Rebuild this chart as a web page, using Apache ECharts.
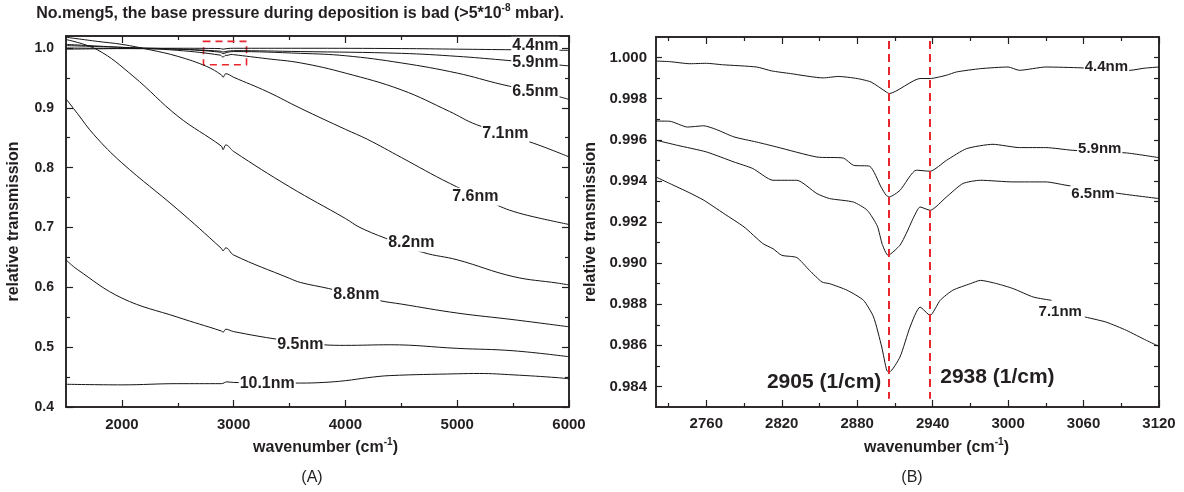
<!DOCTYPE html>
<html>
<head>
<meta charset="utf-8">
<script src="https://cdn.jsdelivr.net/npm/echarts@6.0.0/dist/echarts.min.js"></script>
<style>html,body{margin:0;padding:0;background:#fff}#chart{width:1184px;height:492px}</style>
</head>
<body>
<div id="chart"></div>
<script>
(function (window, document) {
    'use strict';
    var FONT = '"Liberation Sans", Arial, sans-serif';
    var INK = '#231f20';
    var RED = '#e8262c';

    // ---- panel (A): whole spectrum ----
    var aXMajor = [2000, 3000, 4000, 5000, 6000];
    var aXMinor = [2500, 3500, 4500, 5500];
    var aYMajor = [0.4, 0.5, 0.6, 0.7, 0.8, 0.9, 1.0];
    var aYMinor = [0.45, 0.55, 0.65, 0.75, 0.85, 0.95];
    // dashed box = zoomed region shown in (B): x0, x1, y0, y1
    var aZoomBox = [2730, 3115, 0.972, 1.011];

    var a44 = [[1500, 0.998], [2000, 0.999], [2500, 0.9995], [2880, 0.999], [2905, 0.998], [2940, 0.999], [3000, 0.9995],
        [3600, 0.9995], [4500, 0.999], [5000, 0.998], [5500, 0.997], [6000, 0.996]];
    var a59 = [[1500, 1.000], [2000, 0.999], [2500, 0.998], [2880, 0.9947], [2905, 0.9932], [2940, 0.9945], [3000, 0.9955],
        [3600, 0.994], [4500, 0.991], [5000, 0.986], [5400, 0.980], [6000, 0.970]];
    var a65 = [[1500, 1.004], [2000, 1.001], [2500, 0.998], [2880, 0.993], [2905, 0.9904], [2940, 0.9926], [3000, 0.994],
        [3600, 0.991], [4000, 0.987], [4500, 0.975], [5000, 0.958], [5400, 0.939], [5900, 0.919], [6000, 0.914]];
    var a71 = [[1500, 1.006], [2000, 1.001], [2500, 0.996], [2880, 0.988], [2905, 0.9847], [2930, 0.9879], [2940, 0.9875],
        [2975, 0.9892], [3000, 0.9888], [3300, 0.982], [3600, 0.975], [4000, 0.958], [4500, 0.930], [4930, 0.894],
        [5170, 0.872], [5680, 0.841], [6000, 0.818]];
    var a76 = [[1500, 1.018], [1780, 1.011], [2000, 1.006], [2250, 0.997], [2500, 0.986], [2760, 0.969], [2890, 0.955],
        [2905, 0.951], [2930, 0.957], [3000, 0.951], [3300, 0.927], [3600, 0.899], [4000, 0.864], [4200, 0.847],
        [4500, 0.817], [4930, 0.774], [5386, 0.735], [5500, 0.727], [5680, 0.718], [6000, 0.705]];
    var a82 = [[1500, 1.014], [1780, 0.997], [2100, 0.953], [2500, 0.886], [2890, 0.836], [2905, 0.830], [2930, 0.838],
        [3000, 0.827], [3500, 0.768], [4000, 0.715], [4130, 0.700], [4400, 0.679], [4700, 0.658],
        [5000, 0.646], [5500, 0.618], [5900, 0.607], [6000, 0.604]];
    var a88 = [[1500, 0.915], [1600, 0.891], [1750, 0.855], [2000, 0.808], [2500, 0.730], [2890, 0.665], [2905, 0.661],
        [2930, 0.666], [3000, 0.654], [3500, 0.615], [3600, 0.608], [3850, 0.598], [4300, 0.578], [4500, 0.572],
        [5000, 0.557], [5500, 0.546], [6000, 0.534]];
    var a95 = [[1500, 0.646], [1600, 0.630], [2000, 0.582], [2500, 0.550], [2890, 0.527], [2905, 0.525], [2930, 0.530],
        [3000, 0.526], [3400, 0.513], [3800, 0.504], [4000, 0.503], [4400, 0.504], [5000, 0.498], [5500, 0.494],
        [6000, 0.484]];
    var a101 = [[1500, 0.438], [2000, 0.437], [2500, 0.439], [2890, 0.439], [2940, 0.442], [3000, 0.441], [3600, 0.440],
        [3800, 0.441], [4000, 0.444], [4200, 0.449], [4400, 0.4525], [5000, 0.4555], [5200, 0.456], [5500, 0.4537],
        [5900, 0.449], [6000, 0.447]];
    var aLabels = [['4.4nm', 5699, 1.0038], ['5.9nm', 5699, 0.9754], ['6.5nm', 5699, 0.927], ['7.1nm', 5431, 0.8567],
        ['7.6nm', 5162, 0.7513], ['8.2nm', 4589, 0.6744], ['8.8nm', 4097, 0.5875], ['9.5nm', 3596, 0.504],
        ['10.1nm', 3300, 0.4385]];

    // ---- panel (B): C-H stretching region ----
    var bXMajor = [2760, 2820, 2880, 2940, 3000, 3060, 3120];
    var bXMinor = [2730, 2790, 2850, 2910, 2970, 3030, 3090];
    var bYMajor = [0.984, 0.986, 0.988, 0.990, 0.992, 0.994, 0.996, 0.998, 1.000];
    var bYMinor = [0.985, 0.987, 0.989, 0.991, 0.993, 0.995, 0.997, 0.999];
    var bPeaks = [2905, 2938];
    var bPeakSpan = [0.9834, 1.0008];
    var bPeakText = [['2905 (1/cm)', 2853.7, 0.98421], ['2938 (1/cm)', 2991.5, 0.98445]];

    var b44 = [[2720, 0.99983], [2731, 0.9998], [2747, 0.9997], [2760, 0.99972], [2773, 0.99965], [2800, 0.99954],
        [2812, 0.99935], [2827, 0.99922], [2853, 0.99901], [2865, 0.99908], [2880, 0.99898], [2891, 0.99881],
        [2903, 0.99833], [2905.5, 0.99825], [2930, 0.99898], [2938, 0.99898], [2951, 0.99914], [2959, 0.9993],
        [2978, 0.99946], [3000, 0.99954], [3009, 0.99938], [3030, 0.99954], [3058, 0.9995], [3097, 0.99938],
        [3108, 0.99948], [3120, 0.99954]];
    var b59 = [[2720, 0.99691], [2731, 0.9969], [2745, 0.99662], [2758, 0.99668], [2768, 0.9965], [2782, 0.99614],
        [2800, 0.99589], [2816, 0.99565], [2848, 0.99516], [2869, 0.99511], [2877, 0.99476], [2890, 0.99471],
        [2899, 0.9937], [2903, 0.9933], [2905.5, 0.99322], [2914, 0.99354], [2927, 0.99452], [2938, 0.99447],
        [2951, 0.995], [2967, 0.99557], [2988, 0.99578], [3009, 0.99562], [3030, 0.99562], [3051, 0.99549],
        [3094, 0.99536], [3120, 0.99513]];
    var b65 = [[2720, 0.99598], [2737, 0.99573], [2760, 0.99541], [2782, 0.99492], [2797, 0.9946], [2813, 0.99403],
        [2832, 0.99403], [2848, 0.99338], [2858, 0.99314], [2877, 0.99297], [2888, 0.99257], [2896, 0.9918],
        [2900, 0.9909], [2904.5, 0.99038], [2914, 0.99087], [2919, 0.99144], [2925, 0.99224], [2930, 0.99273],
        [2938, 0.99257], [2951, 0.99322], [2964, 0.99387], [2978, 0.99403], [3004, 0.99395], [3030, 0.99395],
        [3046, 0.99379], [3089, 0.99338], [3120, 0.99314]];
    var b71 = [[2720, 0.99419], [2731, 0.99387], [2747, 0.99341], [2758, 0.99306], [2774, 0.99241], [2790, 0.99176],
        [2805, 0.99095], [2813, 0.9907], [2820, 0.99038], [2832, 0.99027], [2842, 0.98965], [2852, 0.98908],
        [2858, 0.989], [2872, 0.98868], [2885, 0.98819], [2893, 0.98738], [2899.5, 0.98592], [2903.5, 0.98478],
        [2905.5, 0.9847], [2914, 0.98543], [2922, 0.98689], [2930, 0.98786], [2938, 0.98746], [2946, 0.98819],
        [2956, 0.98868], [2970, 0.989], [2978, 0.98916], [2991, 0.989], [3004, 0.98876], [3020, 0.98835],
        [3034.5, 0.98819], [3048, '-'], [3061, 0.98738], [3078, 0.98713], [3094, 0.98673], [3110, 0.98624],
        [3120, 0.98595]];
    var bLabels = [['4.4nm', 3078.2, 0.99954], ['5.9nm', 3072.9, 0.99557], ['6.5nm', 3067.5, 0.99338],
        ['7.1nm', 3041.5, 0.98762]];

    var chart = echarts.init(document.getElementById('chart'));

    var boldText = { color: INK, fontFamily: FONT, fontWeight: 'bold' };
    // raised exponent: tall bottom padding pushes the glyphs up in the line box
    var supStyle = { fontFamily: FONT, fontWeight: 'bold', fontSize: 10, color: INK, lineHeight: 10, padding: [0, 0, 12, 0] };
    var baseStyle = { fontFamily: FONT, fontWeight: 'bold', fontSize: 16, color: INK, lineHeight: 22 };

    function ext(a, b) {
        var o = {};
        for (var k in a) o[k] = a[k];
        for (var j in b) o[j] = b[j];
        return o;
    }

    // one tick-row axis; labels only on the main ones
    function axis(grid, pos, range, ticks, len, labels, fmt, margin, size) {
        var a = {
            type: 'value',
            gridIndex: grid,
            position: pos,
            min: range[0],
            max: range[1],
            axisLine: { show: true, onZero: false, lineStyle: { color: INK, width: 1.5 } },
            axisTick: { show: true, inside: true, length: len, customValues: ticks, lineStyle: { color: INK, width: 1.2 } },
            axisLabel: { show: false },
            splitLine: { show: false }
        };
        if (labels) {
            a.axisLabel = ext(boldText, { show: true, customValues: labels, formatter: fmt, fontSize: size, margin: margin });
        }
        return a;
    }

    function fmt1(v) { return v.toFixed(1); }
    function fmt0(v) { return String(Math.round(v)); }
    function fmt3(v) { return v.toFixed(3); }

    var aX = [1500, 6000], aY = [0.4, 1.02];
    var bX = [2720, 3120], bY = [0.983, 1.001];

    var xAxes = [
        axis(0, 'bottom', aX, aXMajor, 7, aXMajor, fmt0, 10, 15),
        axis(0, 'bottom', aX, aXMinor, 4),
        axis(0, 'top', aX, aXMajor, 7),
        axis(0, 'top', aX, aXMinor, 4),
        axis(1, 'bottom', bX, bXMajor, 7, bXMajor, fmt0, 9, 15),
        axis(1, 'bottom', bX, bXMinor, 4),
        axis(1, 'top', bX, bXMajor, 7),
        axis(1, 'top', bX, bXMinor, 4)
    ];
    var yAxes = [
        axis(0, 'left', aY, aYMajor, 7, aYMajor, fmt1, 12, 14),
        axis(0, 'left', aY, aYMinor, 4),
        axis(0, 'right', aY, aYMajor, 7),
        axis(0, 'right', aY, aYMinor, 4),
        axis(1, 'left', bY, bYMajor, 6, bYMajor, fmt3, 9, 15),
        axis(1, 'left', bY, bYMinor, 4),
        axis(1, 'right', bY, bYMajor, 5),
        axis(1, 'right', bY, bYMinor, 5)
    ];

    var xName = { name: '{t|wavenumber (cm}{sup|-1}{t|)}', nameLocation: 'middle', nameGap: 30 };
    var yName = { name: 'relative transmission', nameLocation: 'middle' };
    xAxes[0] = ext(xAxes[0], ext(xName, {
        nameTextStyle: ext(boldText, { fontSize: 16, padding: [0, 0, 0, 16], rich: { t: baseStyle, sup: supStyle } })
    }));
    xAxes[4] = ext(xAxes[4], ext(xName, {
        nameTextStyle: ext(boldText, { fontSize: 16, padding: [0, 0, 0, 58], rich: { t: baseStyle, sup: supStyle } })
    }));
    yAxes[0] = ext(yAxes[0], ext(yName, { nameGap: 44, nameTextStyle: ext(boldText, { fontSize: 16 }) }));
    yAxes[4] = ext(yAxes[4], ext(yName, { nameGap: 57, nameTextStyle: ext(boldText, { fontSize: 16 }) }));

    function curve(data, xi, yi, smooth) {
        return {
            type: 'line',
            xAxisIndex: xi,
            yAxisIndex: yi,
            data: data,
            symbol: 'none',
            smooth: smooth,
            connectNulls: false,
            silent: true,
            lineStyle: { color: '#151515', width: 1 },
            z: 2
        };
    }

    function texts(items, xi, yi, size, bg) {
        return {
            type: 'scatter',
            xAxisIndex: xi,
            yAxisIndex: yi,
            symbolSize: 0,
            silent: true,
            z: 10,
            itemStyle: { color: INK },
            data: items.map(function (d) { return { name: d[0], value: [d[1], d[2]] }; }),
            label: ext(boldText, {
                show: true, position: 'inside', formatter: '{b}', fontSize: size,
                backgroundColor: bg, padding: [1, 1], textBorderWidth: 0, opacity: 1
            })
        };
    }

    var boxSeries = curve(a44, 0, 0, 0.4);
    boxSeries.markArea = {
        silent: true,
        itemStyle: { color: 'rgba(0,0,0,0)', borderColor: RED, borderWidth: 1.6, borderType: [7, 5] },
        data: [[{ coord: [aZoomBox[0], aZoomBox[3]] }, { coord: [aZoomBox[1], aZoomBox[2]] }]]
    };

    var peakSeries = curve(b44, 4, 4, 0.2);
    peakSeries.markLine = {
        silent: true,
        symbol: ['none', 'none'],
        label: { show: false },
        lineStyle: { color: RED, width: 2, type: [8, 5] },
        data: bPeaks.map(function (p) { return [{ coord: [p, bPeakSpan[1]] }, { coord: [p, bPeakSpan[0]] }]; })
    };

    var option = {
        animation: false,
        backgroundColor: '#fff',
        grid: [
            { left: 66, top: 36, width: 503, height: 371 },
            { left: 656, top: 37, width: 503, height: 370 }
        ],
        xAxis: xAxes,
        yAxis: yAxes,
        graphic: [
            {
                type: 'text', x: 300, y: 14,
                style: {
                    text: '{t|No.meng5, the base pressure during deposition is bad (>5*10}{sup|-8}{t| mbar).}',
                    font: 'bold 16px ' + FONT, fill: INK, align: 'center', verticalAlign: 'middle',
                    rich: { t: baseStyle, sup: supStyle }
                }
            },
            { type: 'text', x: 312, y: 478, style: { text: '(A)', font: '16px ' + FONT, fill: INK, align: 'center', verticalAlign: 'middle' } },
            { type: 'text', x: 912, y: 478, style: { text: '(B)', font: '16px ' + FONT, fill: INK, align: 'center', verticalAlign: 'middle' } }
        ],
        series: [
            boxSeries, curve(a59, 0, 0, 0.4), curve(a65, 0, 0, 0.4), curve(a71, 0, 0, 0.4), curve(a76, 0, 0, 0.4),
            curve(a82, 0, 0, 0.4), curve(a88, 0, 0, 0.4), curve(a95, 0, 0, 0.4), curve(a101, 0, 0, 0.4),
            texts(aLabels, 0, 0, 16, '#fff'),
            peakSeries, curve(b59, 4, 4, 0.2), curve(b65, 4, 4, 0.2), curve(b71, 4, 4, 0.2),
            texts(bLabels, 4, 4, 15, '#fff'),
            texts(bPeakText, 4, 4, 21, 'transparent')
        ]
    };

    chart.setOption(option);
})(window, document);
</script>
</body>
</html>
